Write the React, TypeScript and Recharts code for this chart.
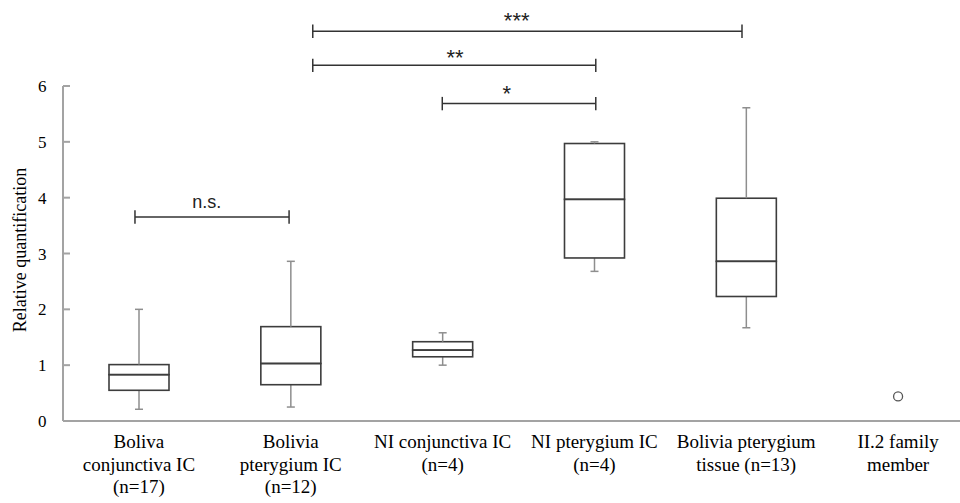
import React from 'react';
import { ComposedChart, Bar, Line, XAxis, YAxis, ReferenceLine, ReferenceDot } from 'recharts';

const categories = [
  'Boliva\nconjunctiva IC\n(n=17)',
  'Bolivia\npterygium IC\n(n=12)',
  'NI conjunctiva IC\n(n=4)',
  'NI pterygium IC\n(n=4)',
  'Bolivia pterygium\ntissue (n=13)',
  'II.2 family\nmember',
];
const whiskerLow: (number | null)[] = [0.21, 0.25, 1.0, 2.68, 1.67, null];
const q1: (number | null)[] = [0.55, 0.65, 1.15, 2.92, 2.23, null];
const median: (number | null)[] = [0.83, 1.03, 1.27, 3.97, 2.86, null];
const q3: (number | null)[] = [1.01, 1.69, 1.42, 4.97, 3.99, null];
const whiskerHigh: (number | null)[] = [2.0, 2.86, 1.58, 5.0, 5.61, null];
const singlePoint: (number | null)[] = [null, null, null, null, null, 0.44];
const yTicks = [0, 1, 2, 3, 4, 5, 6];

// significance brackets (x in category-index units, y in data units)
const sigLabels = ['n.s.', '*', '**', '***'];
const sigStart = [-0.026, 1.998, 1.145, 1.145];
const sigEnd = [0.989, 3.009, 3.009, 3.972];
const sigLevel = [3.654, 5.685, 6.37, 6.98];
const sigLabelX = [0.447, 2.422, 2.082, 2.488];
const sigLabelY = [3.9, 5.97, 6.61, 7.27];

const BOX = '#3d3d3d';
const WHISKER = '#8e8e8e';
const AXIS = '#a3a3a3';
const BRACKET = '#333333';
const SERIF = "'Liberation Serif', 'Times New Roman', serif";
const SANS = "'Liberation Sans', Arial, sans-serif";

const data = categories.map((name, i) => {
  const has = whiskerLow[i] != null;
  return {
    name,
    base: has ? whiskerLow[i] : null,
    lowW: has ? (q1[i] as number) - (whiskerLow[i] as number) : null,
    lowBox: has ? (median[i] as number) - (q1[i] as number) : null,
    highBox: has ? (q3[i] as number) - (median[i] as number) : null,
    highW: has ? (whiskerHigh[i] as number) - (q3[i] as number) : null,
    point: singlePoint[i],
  };
});

const LowWhisker = (p: any) => {
  const { x, y, width, height, payload } = p;
  if (!payload || payload.base == null) return null;
  const cx = x + width / 2;
  const yb = y + height;
  return (
    <g>
      <line x1={cx} x2={cx} y1={y} y2={yb} stroke={WHISKER} strokeWidth={1.5} />
      <line x1={cx - 4} x2={cx + 4} y1={yb} y2={yb} stroke={WHISKER} strokeWidth={1.5} />
    </g>
  );
};

const HighWhisker = (p: any) => {
  const { x, y, width, height, payload } = p;
  if (!payload || payload.base == null) return null;
  const cx = x + width / 2;
  return (
    <g>
      <line x1={cx} x2={cx} y1={y} y2={y + height} stroke={WHISKER} strokeWidth={1.5} />
      <line x1={cx - 4} x2={cx + 4} y1={y} y2={y} stroke={WHISKER} strokeWidth={1.5} />
    </g>
  );
};

const BoxPart = (p: any) => {
  const { x, y, width, height, payload } = p;
  if (!payload || payload.base == null) return null;
  return <rect x={x} y={y} width={width} height={height} fill="none" stroke={BOX} strokeWidth={1.6} />;
};

const Hidden = () => null;

const XTick = (props: any) => {
  const { x, y, payload } = props;
  const lines = String(payload.value).split('\n');
  return (
    <text x={x} y={y + 19} textAnchor="middle" fontFamily={SERIF} style={{ fontFamily: SERIF }} fontSize={19} fill="#000">
      {lines.map((l, i) => (
        <tspan key={i} x={x} dy={i === 0 ? 0 : 22.5}>
          {l}
        </tspan>
      ))}
    </text>
  );
};

const YTick = (props: any) => {
  const { x, y, payload } = props;
  return (
    <text x={x} y={y} dy={6} textAnchor="end" fontFamily={SERIF} style={{ fontFamily: SERIF }} fontSize={17} fill="#000">
      {payload.value}
    </text>
  );
};

const YLabel = (props: any) => {
  const vb = props.viewBox || { x: 0, y: 86, width: 63, height: 335 };
  const cx = vb.x + 20;
  const cy = vb.y + vb.height / 2 - 3.5;
  return (
    <text
      x={cx}
      y={cy}
      transform={`rotate(-90, ${cx}, ${cy})`}
      textAnchor="middle"
      dominantBaseline="central"
      fontFamily={SERIF}
      style={{ fontFamily: SERIF }}
      fontSize={18}
      fill="#000"
    >
      Relative quantification
    </text>
  );
};

export default function App() {
  return (
    <div style={{ position: 'absolute', left: 0, top: 0, width: 960, height: 503, overflow: 'hidden', background: '#fff' }}>
      <ComposedChart width={974} height={503} data={data} margin={{ top: 86, right: 0, bottom: 0, left: 0 }}>
        <XAxis
          dataKey="name"
          height={82}
          tickLine={false}
          axisLine={{ stroke: AXIS, strokeWidth: 2 }}
          tick={<XTick />}
          interval={0}
        />
        <XAxis
          xAxisId="n"
          type="number"
          domain={[0, 5]}
          allowDataOverflow
          padding={{ left: 75.92, right: 75.92 }}
          hide
        />
        <YAxis
          domain={[0, 6]}
          ticks={yTicks}
          width={63}
          tickSize={-7}
          tickMargin={23.5}
          interval={0}
          allowDataOverflow
          axisLine={{ stroke: AXIS, strokeWidth: 2 }}
          tickLine={{ stroke: AXIS, strokeWidth: 2 }}
          tick={<YTick />}
          label={YLabel}
        />
        <Bar dataKey="base" stackId="b" barSize={60} isAnimationActive={false} shape={<Hidden />} />
        <Bar dataKey="lowW" stackId="b" barSize={60} isAnimationActive={false} shape={<LowWhisker />} />
        <Bar dataKey="lowBox" stackId="b" barSize={60} isAnimationActive={false} shape={<BoxPart />} />
        <Bar dataKey="highBox" stackId="b" barSize={60} isAnimationActive={false} shape={<BoxPart />} />
        <Bar dataKey="highW" stackId="b" barSize={60} isAnimationActive={false} shape={<HighWhisker />} />
        <Line
          dataKey="point"
          stroke="none"
          isAnimationActive={false}
          activeDot={false}
          dot={{ r: 4.5, fill: '#fff', stroke: '#555', strokeWidth: 1.3 }}
        />
        {sigLabels.map((_, i) => (
          <ReferenceLine
            key={'h' + i}
            xAxisId="n"
            segment={[
              { x: sigStart[i], y: sigLevel[i] },
              { x: sigEnd[i], y: sigLevel[i] },
            ]}
            stroke={BRACKET}
            strokeWidth={1.5}
            ifOverflow="visible"
          />
        ))}
        {sigLabels.map((_, i) => (
          <ReferenceLine
            key={'s' + i}
            xAxisId="n"
            segment={[
              { x: sigStart[i], y: sigLevel[i] - 0.12 },
              { x: sigStart[i], y: sigLevel[i] + 0.12 },
            ]}
            stroke={BRACKET}
            strokeWidth={1.5}
            ifOverflow="visible"
          />
        ))}
        {sigLabels.map((_, i) => (
          <ReferenceLine
            key={'e' + i}
            xAxisId="n"
            segment={[
              { x: sigEnd[i], y: sigLevel[i] - 0.12 },
              { x: sigEnd[i], y: sigLevel[i] + 0.12 },
            ]}
            stroke={BRACKET}
            strokeWidth={1.5}
            ifOverflow="visible"
          />
        ))}
        {sigLabels.map((lab, i) => {
          const isNs = lab === 'n.s.';
          const fs = isNs ? 18 : 22;
          const shift = isNs ? 0.27 * fs : 0.6 * fs;
          return (
            <ReferenceDot
              key={'t' + i}
              xAxisId="n"
              x={sigLabelX[i]}
              y={sigLabelY[i]}
              r={0}
              ifOverflow="visible"
              shape={(p: any) => (
                <text
                  x={p.cx}
                  y={p.cy + shift}
                  textAnchor="middle"
                  fontFamily={SANS}
                  style={{ fontFamily: SANS }}
                  fontSize={fs}
                  fill="#222"
                >
                  {lab}
                </text>
              )}
            />
          );
        })}
      </ComposedChart>
    </div>
  );
}
